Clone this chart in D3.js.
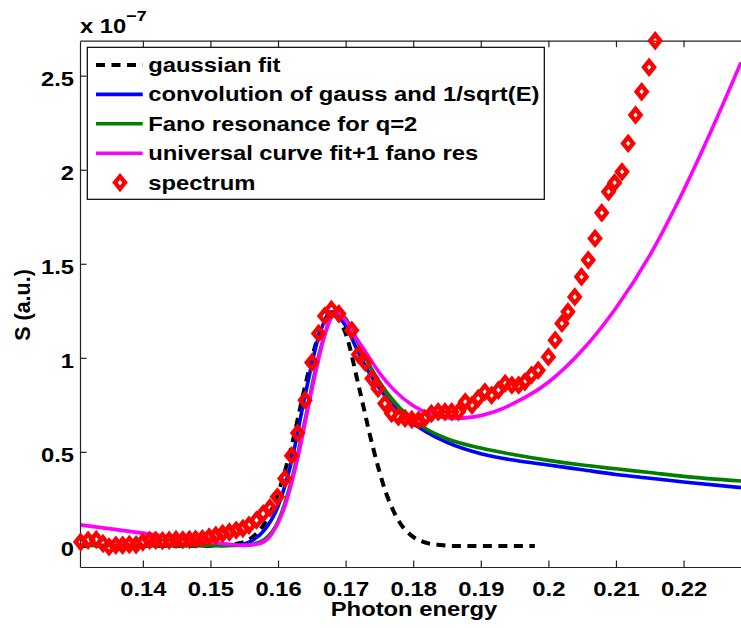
<!DOCTYPE html>
<html>
<head>
<meta charset="utf-8">
<script src="https://cdn.jsdelivr.net/npm/d3@7"></script>
<style>
  body { margin: 0; background: #fff; }
  svg { display: block; }
  text { font-family: "Liberation Sans", Arial, Helvetica, sans-serif; font-weight: bold; fill: #000; }
</style>
</head>
<body>
<svg id="chart" width="741" height="628"></svg>
<script>
// Measured spectrum (photon energy in eV, signal in units of 1e-7)
const specE = [0.1308,0.1319,0.1331,0.1341,0.1350,0.1360,0.1370,0.1380,0.1390,0.1400,
  0.1410,0.1419,0.1429,0.1439,0.1449,0.1459,0.1469,0.1478,0.1488,0.1498,
  0.1508,0.1518,0.1528,0.1538,0.1548,0.1557,0.1568,0.1578,0.1588,0.1599,
  0.1610,0.1620,0.1629,0.1640,0.1650,0.1660,0.1669,0.1679,0.1690,0.1709,
  0.1719,0.1729,0.1739,0.1748,0.1758,0.1768,0.1778,0.1788,0.1798,0.1808,
  0.1817,0.1827,0.1837,0.1847,0.1857,0.1867,0.1877,0.1887,0.1896,0.1906,
  0.1916,0.1926,0.1936,0.1946,0.1956,0.1965,0.1975,0.1985,0.2000,0.2010,
  0.2020,0.2029,0.2039,0.2049,0.2059,0.2069,0.2079,0.2089,0.2098,0.2109,
  0.2118,0.2129,0.2138,0.2149,0.2158];
const specS = [0.021,0.030,0.034,0.013,-0.005,0.004,0.004,0.008,0.006,0.021,
  0.030,0.030,0.028,0.030,0.034,0.032,0.034,0.036,0.039,0.048,
  0.057,0.066,0.074,0.084,0.093,0.110,0.137,0.172,0.203,0.261,
  0.358,0.480,0.600,0.775,0.975,1.130,1.222,1.257,1.234,1.147,
  1.018,0.975,0.890,0.837,0.757,0.704,0.686,0.678,0.672,0.669,
  0.678,0.704,0.713,0.713,0.713,0.713,0.766,0.748,0.784,0.819,
  0.801,0.828,0.864,0.855,0.855,0.872,0.908,0.934,1.005,1.094,
  1.183,1.245,1.324,1.431,1.520,1.635,1.771,1.883,1.931,1.989,
  2.140,2.291,2.415,2.545,2.686];

// Gaussian fit
const gaussE = [0.1307,0.140,0.148,0.152,0.154,0.156,0.158,0.160,0.162,0.164,0.166,0.1678,
  0.170,0.172,0.174,0.176,0.178,0.180,0.182,0.184,0.186,0.198];
const gaussS = [0,0,0,0.003,0.012,0.040,0.120,0.280,0.530,0.850,1.120,1.235,
  1.130,0.840,0.530,0.280,0.125,0.048,0.016,0.005,0,0];

// Convolution of gauss and 1/sqrt(E)
const convE = [0.1307,0.140,0.150,0.154,0.156,0.158,0.160,0.162,0.164,0.166,0.168,
  0.170,0.172,0.174,0.176,0.178,0.180,0.182,0.185,0.190,0.195,0.200,0.205,0.210,0.215,0.220,0.2285];
const convS = [0.004,0.002,0.002,0.006,0.025,0.085,0.210,0.450,0.800,1.110,1.245,
  1.170,1.020,0.890,0.790,0.710,0.650,0.605,0.550,0.490,0.455,0.430,0.405,0.380,0.360,0.340,0.310];

// Fano resonance, q = 2
const fanoE = [0.1307,0.140,0.150,0.154,0.156,0.158,0.160,0.162,0.164,0.166,0.168,0.169,
  0.170,0.172,0.174,0.176,0.178,0.180,0.182,0.185,0.190,0.195,0.200,0.205,0.210,0.215,0.220,0.2285];
const fanoS = [0.002,0.001,0.001,0.003,0.008,0.035,0.130,0.350,0.670,1.010,1.220,1.240,
  1.210,1.070,0.930,0.820,0.735,0.670,0.620,0.570,0.520,0.485,0.455,0.430,0.410,0.390,0.370,0.345];

// Universal curve fit + one Fano resonance
const univE = [0.1307,0.135,0.140,0.145,0.150,0.153,0.155,0.157,0.159,0.161,0.163,0.165,0.167,0.1685,
  0.170,0.1715,0.173,0.175,0.177,0.180,0.183,0.186,0.189,0.192,0.195,0.200,0.205,0.210,0.215,0.220,0.225,0.2285];
const univS = [0.112,0.092,0.068,0.044,0.020,0.008,0.003,0.010,0.060,0.210,0.480,0.830,1.130,1.245,
  1.200,1.110,1.030,0.920,0.835,0.745,0.695,0.678,0.686,0.713,0.760,0.870,1.040,1.265,1.545,1.890,2.280,2.570];

const xTicks = [0.14,0.15,0.16,0.17,0.18,0.19,0.20,0.21,0.22];
const xTickLabels = ["0.14","0.15","0.16","0.17","0.18","0.19","0.2","0.21","0.22"];
const yTicks = [0,0.5,1,1.5,2,2.5];
const yTickLabels = ["0","0.5","1","1.5","2","2.5"];

const legendLabels = ["gaussian fit","convolution of gauss and 1/sqrt(E)","Fano resonance for q=2",
  "universal curve fit+1 fano res","spectrum"];

const SX = 1.19; // horizontal text stretch of this figure's font

const svg = d3.select("#chart");
const plotL = 80, plotR = 741, plotT = 40.7, plotB = 567;

const x = d3.scaleLinear().domain([0.1307, 0.2285]).range([plotL, plotR]);
const y = d3.scaleLinear().domain([-0.112, 2.686]).range([plotB, plotT]);

svg.append("defs").append("clipPath").attr("id", "plotclip")
  .append("rect").attr("x", plotL).attr("y", plotT).attr("width", plotR - plotL).attr("height", plotB - plotT);

const zip = (a, b) => a.map((v, i) => [v, b[i]]);
const line = d3.line().x(d => x(d[0])).y(d => y(d[1])).curve(d3.curveMonotoneX);

const plot = svg.append("g").attr("clip-path", "url(#plotclip)");
const series = [
  { e: gaussE, s: gaussS, color: "#000000", dash: "9,6.5", w: 4 },
  { e: convE, s: convS, color: "#0000ff", dash: null, w: 3.6 },
  { e: fanoE, s: fanoS, color: "#007f00", dash: null, w: 3.6 },
  { e: univE, s: univS, color: "#ff00ff", dash: null, w: 3.6 }
];
series.forEach(sr => {
  plot.append("path")
    .attr("d", line(zip(sr.e, sr.s)))
    .attr("fill", "none")
    .attr("stroke", sr.color)
    .attr("stroke-width", sr.w)
    .attr("stroke-dasharray", sr.dash)
    .attr("stroke-linejoin", "round");
});

// Diamond marker
const diamond = (cx, cy) => `M${cx},${cy - 6.2}L${cx + 5},${cy}L${cx},${cy + 6.2}L${cx - 5},${cy}Z`;

// Axes
const axisColor = "#222";
const gBottom = svg.append("g").attr("transform", `translate(0,${plotB})`)
  .call(d3.axisBottom(x).tickValues(xTicks).tickSizeInner(-6.5).tickSizeOuter(0)
    .tickFormat((d, i) => xTickLabels[i]));
const gTop = svg.append("g").attr("transform", `translate(0,${plotT})`)
  .call(d3.axisTop(x).tickValues(xTicks).tickSizeInner(-6.5).tickSizeOuter(0).tickFormat(""));
const gLeft = svg.append("g").attr("transform", `translate(${plotL},0)`)
  .call(d3.axisLeft(y).tickValues(yTicks).tickSizeInner(-6.5).tickSizeOuter(0)
    .tickFormat((d, i) => yTickLabels[i]));

[gBottom, gTop, gLeft].forEach(g => {
  g.select(".domain").attr("stroke", axisColor).attr("stroke-width", 1.2);
  g.selectAll(".tick line").attr("stroke", axisColor).attr("stroke-width", 1.2);
  g.attr("font-family", null).attr("font-size", null);
});
gBottom.selectAll(".tick text")
  .attr("y", 0).attr("dy", null)
  .attr("transform", `translate(0,28.5) scale(${SX},1)`)
  .attr("font-size", 20).attr("fill", "#000");
gLeft.selectAll(".tick text")
  .attr("x", 0).attr("dy", null)
  .attr("transform", `translate(-6,9.5) scale(${SX},1)`)
  .attr("font-size", 20).attr("fill", "#000");
gTop.selectAll(".tick text").remove();

// Spectrum markers (drawn unclipped, on top of the curves)
svg.append("g").selectAll("path.pt")
  .data(zip(specE, specS)).join("path")
  .attr("class", "pt")
  .attr("d", d => diamond(x(d[0]), y(d[1])))
  .attr("fill", "none")
  .attr("stroke", "#ff0000")
  .attr("stroke-width", 4.4)
  .attr("stroke-linejoin", "miter");

// Axis titles and exponent
svg.append("text")
  .attr("transform", `translate(414,615.5) scale(${SX},1)`)
  .attr("text-anchor", "middle").attr("font-size", 20)
  .text("Photon energy");
svg.append("text")
  .attr("transform", "translate(30,305) rotate(-90)")
  .attr("text-anchor", "middle").attr("font-size", 21.5)
  .text("S (a.u.)");
const expo = svg.append("text")
  .attr("transform", `translate(80,33) scale(${SX},1)`)
  .attr("font-size", 20);
expo.append("tspan").text("x 10");
expo.append("tspan").attr("dy", -12).attr("font-size", 15).text("\u22127");

// Legend
const lg = svg.append("g");
lg.append("rect").attr("x", 87.3).attr("y", 47.3).attr("width", 457).attr("height", 152)
  .attr("fill", "#fff").attr("stroke", "#000").attr("stroke-width", 1.2);
const rowY = i => 65 + i * 29.4;
series.forEach((sr, i) => {
  lg.append("line")
    .attr("x1", 96).attr("x2", 142.7).attr("y1", rowY(i)).attr("y2", rowY(i))
    .attr("stroke", sr.color).attr("stroke-width", sr.w)
    .attr("stroke-dasharray", sr.dash);
});
lg.append("path").attr("d", diamond(120, rowY(4)))
  .attr("fill", "none").attr("stroke", "#ff0000").attr("stroke-width", 4.4);
legendLabels.forEach((t, i) => {
  lg.append("text")
    .attr("transform", `translate(148.3,${rowY(i) + 7}) scale(${SX},1)`)
    .attr("font-size", 20)
    .text(t);
});
</script>
</body>
</html>
